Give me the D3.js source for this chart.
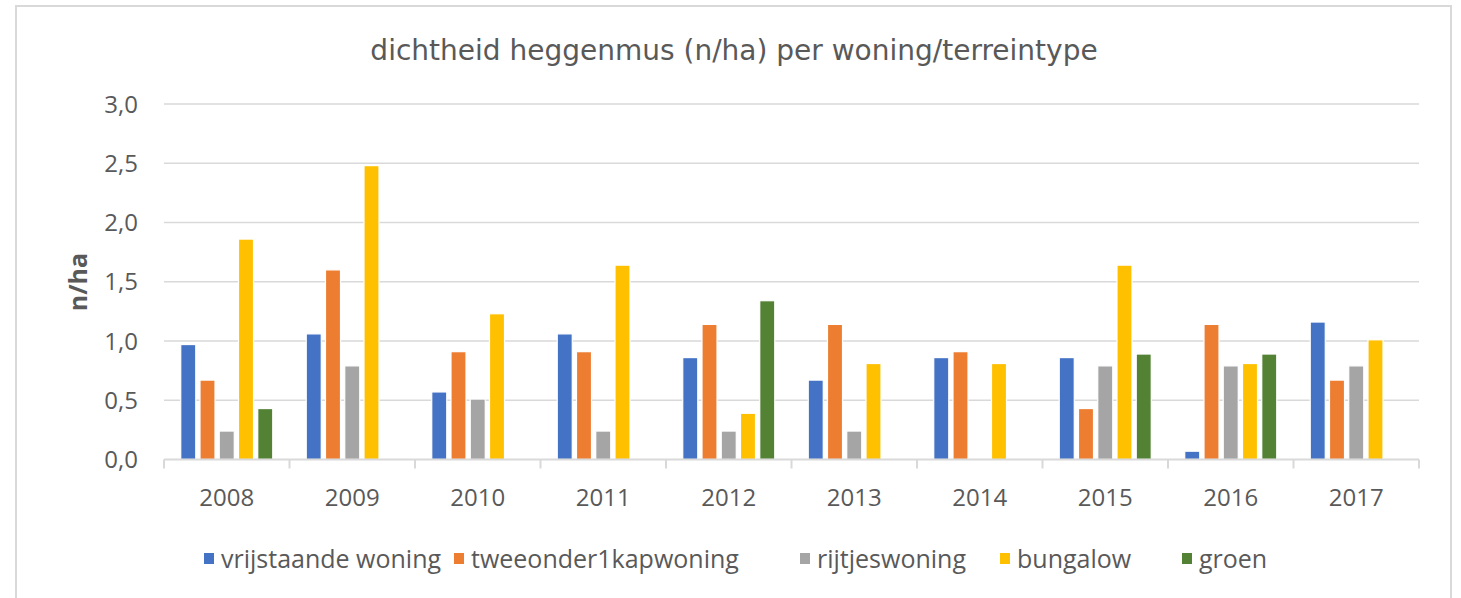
<!DOCTYPE html>
<html>
<head>
<meta charset="utf-8">
<script src="https://cdn.jsdelivr.net/npm/d3@7"></script>
<style>
  body { margin: 0; background: #fff; }
  svg text { fill: #595959; }
</style>
</head>
<body>
<svg width="1461" height="598"></svg>
<script>
// data
var years = ["2008", "2009", "2010", "2011", "2012", "2013", "2014", "2015", "2016", "2017"];
var seriesNames = ["vrijstaande woning", "tweeonder1kapwoning", "rijtjeswoning", "bungalow", "groen"];
var colors = ["#4472C4", "#ED7D31", "#A5A5A5", "#FFC000", "#548235"];

var vrijstaande = [0.97, 1.06, 0.57, 1.06, 0.86, 0.67, 0.86, 0.86, 0.07, 1.16];
var tweeonder1kap = [0.67, 1.60, 0.91, 0.91, 1.14, 1.14, 0.91, 0.43, 1.14, 0.67];
var rijtjes = [0.24, 0.79, 0.51, 0.24, 0.24, 0.24, 0, 0.79, 0.79, 0.79];
var bungalow = [1.86, 2.48, 1.23, 1.64, 0.39, 0.81, 0.81, 1.64, 0.81, 1.01];
var groen = [0.43, 0, 0, 0, 1.34, 0, 0, 0.89, 0.89, 0];
var yTicks = [0, 0.5, 1, 1.5, 2, 2.5, 3];

var allSeries = [vrijstaande, tweeonder1kap, rijtjes, bungalow, groen];

var svg = d3.select("svg"),
    width = +svg.attr("width"),
    height = +svg.attr("height");

var margin = {left: 164, right: 42, top: 104, bottom: 138.5};

// chart frame
svg.append("rect")
    .attr("x", 16).attr("y", 6)
    .attr("width", 1435).attr("height", 620)
    .attr("fill", "none")
    .attr("stroke", "#d9d9d9")
    .attr("stroke-width", 2);

var x0 = d3.scaleBand()
    .domain(years)
    .range([margin.left, width - margin.right]);

var x1 = d3.scaleBand()
    .domain(seriesNames)
    .range([0, x0.bandwidth()])
    .paddingInner(0.22)
    .paddingOuter(0.87);

var y = d3.scaleLinear()
    .domain([0, 3])
    .range([height - margin.bottom, margin.top]);

// gridlines
svg.append("g")
    .selectAll("line")
    .data(yTicks.slice(1))
    .enter().append("line")
    .attr("x1", margin.left)
    .attr("x2", width - margin.right)
    .attr("y1", function(d) { return y(d); })
    .attr("y2", function(d) { return y(d); })
    .attr("stroke", "#d9d9d9")
    .attr("stroke-width", 1.5);

// y tick labels
svg.append("g")
    .selectAll("text")
    .data(yTicks)
    .enter().append("text")
    .attr("x", 138)
    .attr("y", function(d) { return y(d); })
    .attr("dy", "0.36em")
    .attr("text-anchor", "end")
    .attr("font-family", "Open Sans")
    .attr("font-size", 24)
    .text(function(d) { return d3.format(".1f")(d).replace(".", ","); });

// bars
var groups = svg.append("g")
    .selectAll("g")
    .data(years)
    .enter().append("g")
    .attr("transform", function(d) { return "translate(" + x0(d) + ",0)"; });

groups.selectAll("rect")
    .data(function(d, i) {
        return seriesNames.map(function(s, j) { return {name: s, value: allSeries[j][i], color: colors[j]}; });
    })
    .enter().append("rect")
    .filter(function(d) { return d.value > 0; })
    .attr("x", function(d) { return x1(d.name); })
    .attr("width", x1.bandwidth())
    .attr("y", function(d) { return y(d.value); })
    .attr("height", function(d) { return y(0) - y(d.value); })
    .attr("fill", function(d) { return d.color; })
    .attr("stroke", "#fff")
    .attr("stroke-width", 1.2);

// x axis
var xAxis = svg.append("g")
    .attr("transform", "translate(0," + y(0) + ")");

xAxis.append("line")
    .attr("x1", margin.left).attr("x2", width - margin.right)
    .attr("stroke", "#d9d9d9").attr("stroke-width", 2);

xAxis.selectAll("line.tick")
    .data(years.concat(["end"]))
    .enter().append("line")
    .attr("class", "tick")
    .attr("x1", function(d) { return d == "end" ? width - margin.right : x0(d); })
    .attr("x2", function(d) { return d == "end" ? width - margin.right : x0(d); })
    .attr("y1", 0).attr("y2", 9)
    .attr("stroke", "#d9d9d9").attr("stroke-width", 2);

xAxis.selectAll("text")
    .data(years)
    .enter().append("text")
    .attr("x", function(d) { return x0(d) + x0.bandwidth() / 2; })
    .attr("y", 46)
    .attr("text-anchor", "middle")
    .attr("font-family", "Open Sans")
    .attr("font-size", 24)
    .text(function(d) { return d; });

// y axis title
svg.append("text")
    .attr("transform", "translate(87,282) rotate(-90)")
    .attr("text-anchor", "middle")
    .attr("font-family", "Open Sans")
    .attr("font-weight", "bold")
    .attr("font-size", 25)
    .text("n/ha");

// title
svg.append("text")
    .attr("x", 734)
    .attr("y", 60)
    .attr("text-anchor", "middle")
    .attr("font-family", "DejaVu Sans")
    .attr("font-size", 28)
    .text("dichtheid heggenmus (n/ha) per woning/terreintype");

// legend
var legendX = [204, 454, 800, 1000, 1182];
var legend = svg.append("g")
    .selectAll("g")
    .data(seriesNames)
    .enter().append("g")
    .attr("transform", function(d, i) { return "translate(" + legendX[i] + ",559)"; });

legend.append("rect")
    .attr("x", 0).attr("y", -6)
    .attr("width", 10).attr("height", 11)
    .attr("fill", function(d, i) { return colors[i]; });

legend.append("text")
    .attr("x", 17)
    .attr("dy", "0.36em")
    .attr("font-family", "Open Sans")
    .attr("font-size", 25)
    .text(function(d) { return d; });
</script>
</body>
</html>
